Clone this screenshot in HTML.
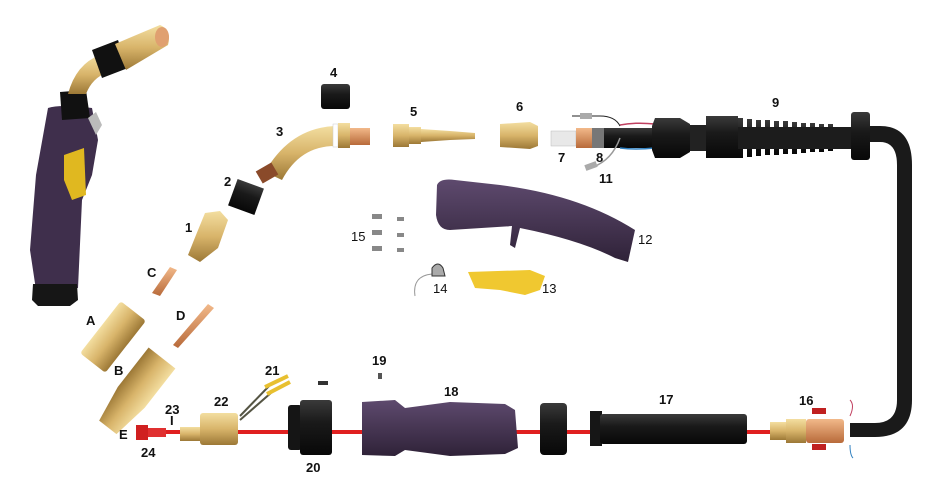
<!DOCTYPE html>
<html><head><meta charset="utf-8"><style>
html,body{margin:0;padding:0;background:#fff}
svg{display:block}
text{font-family:"Liberation Sans",sans-serif;fill:#111}
.b{font-weight:bold;font-size:13px}
.n{font-size:13px}
</style></head><body>
<svg width="950" height="500" viewBox="0 0 950 500" xmlns="http://www.w3.org/2000/svg">
<defs>
<linearGradient id="br" x1="0" y1="0" x2="0" y2="1"><stop offset="0" stop-color="#f3dea0"/><stop offset=".5" stop-color="#d8b46a"/><stop offset="1" stop-color="#9c7836"/></linearGradient>
<linearGradient id="cu" x1="0" y1="0" x2="0" y2="1"><stop offset="0" stop-color="#f2b98a"/><stop offset="1" stop-color="#b86a3a"/></linearGradient>
<linearGradient id="bk" x1="0" y1="0" x2="0" y2="1"><stop offset="0" stop-color="#3a3a3a"/><stop offset=".4" stop-color="#1a1a1a"/><stop offset="1" stop-color="#080808"/></linearGradient>
<linearGradient id="pu" x1="0" y1="0" x2="0" y2="1"><stop offset="0" stop-color="#5e4a6e"/><stop offset="1" stop-color="#2f2238"/></linearGradient>
</defs>

<!-- left torch -->
<path d="M48,108 Q60,104 92,108 L98,140 L92,175 L82,200 L78,288 L36,290 L30,250 L36,175 Z" fill="#3f2f4c"/>
<path d="M33,284 L77,284 L78,300 L70,306 L38,306 L32,300 Z" fill="#161616"/>
<path d="M60,92 L86,90 L90,118 L62,120 Z" fill="#111"/>
<path d="M68,94 Q76,64 100,55 L108,72 Q92,78 86,94 Z" fill="url(#br)"/>
<path d="M92,50 L118,40 L128,68 L102,78 Z" fill="#111"/>
<path d="M115,44 L160,25 Q172,30 168,45 L126,70 Z" fill="url(#br)"/>
<ellipse cx="162" cy="37" rx="7" ry="10" fill="#e0a070"/>
<path d="M64,155 L84,148 L86,195 L72,200 L64,180 Z" fill="#e0b820"/>
<path d="M88,118 L96,112 L102,125 L96,135 Z" fill="#bbb"/>

<!-- part 4 -->
<rect x="321" y="84" width="29" height="25" rx="3" fill="url(#bk)"/>
<!-- part 3 gooseneck -->
<path d="M265,172 Q290,128 335,126 L335,146 Q300,146 282,180 Z" fill="url(#br)"/>
<rect x="258" y="166" width="18" height="14" fill="#8a4a2a" transform="rotate(-30 267 173)"/>
<rect x="333" y="124" width="5" height="23" fill="#fff" stroke="#ccc" stroke-width=".5"/>
<rect x="338" y="123" width="12" height="25" fill="url(#br)"/>
<rect x="350" y="128" width="20" height="17" fill="url(#cu)"/>
<!-- part 5 -->
<rect x="393" y="124" width="16" height="23" fill="url(#br)"/>
<rect x="409" y="127" width="12" height="17" fill="url(#br)"/>
<path d="M421,129 L450,131 L475,133 L475,139 L450,140 L421,142 Z" fill="url(#br)"/>
<!-- part 6 -->
<path d="M500,124 L530,122 L538,126 L538,146 L530,149 L500,147 Z" fill="url(#br)"/>
<!-- 7/8 -->
<rect x="551" y="131" width="25" height="15" fill="#e8e8e8" stroke="#bbb" stroke-width=".5"/>
<rect x="576" y="128" width="16" height="20" fill="url(#cu)"/>
<rect x="592" y="128" width="12" height="20" fill="#777"/>
<rect x="604" y="128" width="50" height="20" fill="url(#bk)"/>
<path d="M620,125 Q635,122 655,124" stroke="#c04060" stroke-width="1.5" fill="none"/>
<path d="M620,148 Q635,150 655,148" stroke="#3080c0" stroke-width="1.5" fill="none"/>
<path d="M572,116 L600,116 Q615,116 620,126" stroke="#222" fill="none"/>
<rect x="580" y="113" width="12" height="6" fill="#aaa"/>
<path d="M620,138 Q612,160 593,167" stroke="#999" stroke-width="1.5" fill="none"/>
<rect x="585" y="163" width="12" height="6" fill="#aaa" transform="rotate(-20 591 166)"/>
<!-- part 9 -->
<path d="M655,118 L680,118 L690,124 L690,152 L680,158 L655,158 L652,150 L652,126 Z" fill="url(#bk)"/>
<rect x="690" y="125" width="20" height="26" fill="#222"/>
<rect x="706" y="116" width="32" height="42" fill="url(#bk)"/>
<g fill="url(#bk)">
<rect x="738" y="118" width="5" height="40"/><rect x="747" y="119" width="5" height="38"/><rect x="756" y="120" width="5" height="36"/><rect x="765" y="120" width="5" height="35"/><rect x="774" y="121" width="5" height="34"/><rect x="783" y="121" width="5" height="33"/><rect x="792" y="122" width="5" height="32"/><rect x="801" y="123" width="5" height="30"/><rect x="810" y="123" width="5" height="29"/><rect x="819" y="124" width="5" height="28"/><rect x="828" y="124" width="5" height="27"/>
</g>
<rect x="738" y="127" width="115" height="22" fill="#1c1c1c"/>
<rect x="851" y="112" width="19" height="48" rx="3" fill="url(#bk)"/>
<path d="M870,126 L880,126 Q912,126 912,165 L912,400 Q912,437 875,437 L850,437 L850,423 L875,423 Q897,423 897,400 L897,165 Q897,142 880,142 L870,142 Z" fill="#1a1a1a"/>

<!-- part 12 handle -->
<path d="M437,185 Q440,178 455,180 L500,185 Q580,195 635,230 L628,262 L615,258 Q580,240 520,228 L515,248 L510,245 L512,226 L450,230 Q438,230 436,215 Z" fill="url(#pu)"/>
<!-- 13 -->
<path d="M468,272 L530,270 L545,276 L540,290 L525,295 L500,290 L475,288 Z" fill="#f0c830"/>
<!-- 14 -->
<path d="M432,274 Q412,276 415,296" stroke="#999" fill="none"/>
<path d="M432,268 Q438,260 443,268 L445,276 L432,276 Z" fill="#aaa" stroke="#333" stroke-width="1"/>
<!-- 15 screws -->
<g fill="#888"><rect x="372" y="214" width="10" height="5"/><rect x="372" y="230" width="10" height="5"/><rect x="372" y="246" width="10" height="5"/><rect x="397" y="217" width="7" height="4"/><rect x="397" y="233" width="7" height="4"/><rect x="397" y="248" width="7" height="4"/></g>

<!-- part 2 -->
<rect x="232" y="183" width="28" height="28" fill="url(#bk)" transform="rotate(20 246 197)"/>
<!-- part 1 -->
<path d="M205,213 L220,211 L228,220 L218,248 L200,262 L188,255 L196,235 Z" fill="url(#br)"/>
<!-- C, D -->
<path d="M170,267 L177,270 L160,296 L152,293 Z" fill="url(#cu)"/>
<path d="M208,304 L214,308 L178,348 L173,345 Z" fill="url(#cu)"/>
<!-- A -->
<rect x="80" y="321" width="66" height="32" rx="3" fill="url(#br)" transform="rotate(-52 113 337)"/>
<!-- B -->
<path d="M0,-17 L50,-17 L88,-11 L88,11 L50,17 L0,17 Z" fill="url(#br)" transform="translate(162,358) rotate(128)"/>

<!-- red wire -->
<rect x="140" y="430" width="640" height="4" fill="#e02020"/>
<!-- 24 -->
<rect x="136" y="425" width="12" height="15" fill="#d02020"/>
<rect x="148" y="428" width="18" height="9" fill="#e03030"/>
<!-- 22 -->
<rect x="180" y="427" width="20" height="14" fill="url(#br)"/>
<rect x="200" y="413" width="38" height="32" rx="3" fill="url(#br)"/>
<path d="M240,416 L270,385 M240,420 L272,392" stroke="#554" stroke-width="2"/>
<path d="M265,387 L288,376 M267,394 L290,382" stroke="#e8c030" stroke-width="4"/>
<!-- 20 -->
<rect x="288" y="405" width="14" height="45" rx="3" fill="#151515"/>
<rect x="300" y="400" width="32" height="55" rx="3" fill="url(#bk)"/>
<rect x="318" y="381" width="10" height="4" fill="#333"/>
<rect x="378" y="373" width="4" height="6" fill="#555"/>
<!-- 18 -->
<path d="M362,402 L395,400 L405,408 L450,402 L505,404 L515,410 L518,448 L505,454 L450,456 L405,450 L395,456 L362,455 Z" fill="url(#pu)"/>
<!-- 2nd nut -->
<rect x="540" y="403" width="27" height="52" rx="4" fill="url(#bk)"/>
<!-- 17 -->
<rect x="590" y="411" width="12" height="35" fill="#161616"/>
<rect x="600" y="414" width="147" height="30" rx="3" fill="url(#bk)"/>
<!-- 16 -->
<rect x="770" y="422" width="16" height="18" fill="url(#br)"/>
<rect x="786" y="419" width="20" height="24" fill="url(#br)"/>
<rect x="806" y="419" width="38" height="24" rx="3" fill="url(#cu)"/>
<rect x="812" y="408" width="14" height="6" fill="#c02020"/>
<rect x="812" y="444" width="14" height="6" fill="#c02020"/>
<path d="M850,416 Q855,405 850,400" stroke="#c04060" fill="none"/>
<path d="M850,445 Q850,455 853,458" stroke="#3080c0" fill="none"/>

<!-- labels -->
<text class="b" x="330" y="77">4</text>
<text class="b" x="410" y="116">5</text>
<text class="b" x="516" y="111">6</text>
<text class="b" x="772" y="107">9</text>
<text class="b" x="276" y="136">3</text>
<text class="b" x="224" y="186">2</text>
<text class="b" x="185" y="232">1</text>
<text class="b" x="558" y="162">7</text>
<text class="b" x="596" y="162">8</text>
<text class="b" x="599" y="183">11</text>
<text class="n" x="351" y="241">15</text>
<text class="n" x="638" y="244">12</text>
<text class="n" x="433" y="293">14</text>
<text class="n" x="542" y="293">13</text>
<text class="b" x="147" y="277">C</text>
<text class="b" x="86" y="325">A</text>
<text class="b" x="176" y="320">D</text>
<text class="b" x="114" y="375">B</text>
<text class="b" x="265" y="375">21</text>
<text class="b" x="372" y="365">19</text>
<text class="b" x="444" y="396">18</text>
<text class="b" x="214" y="406">22</text>
<text class="b" x="165" y="414">23</text>
<text class="b" x="170" y="425">I</text>
<text class="b" x="119" y="439">E</text>
<text class="b" x="141" y="457">24</text>
<text class="b" x="306" y="472">20</text>
<text class="b" x="659" y="404">17</text>
<text class="b" x="799" y="405">16</text>
</svg>
</body></html>
